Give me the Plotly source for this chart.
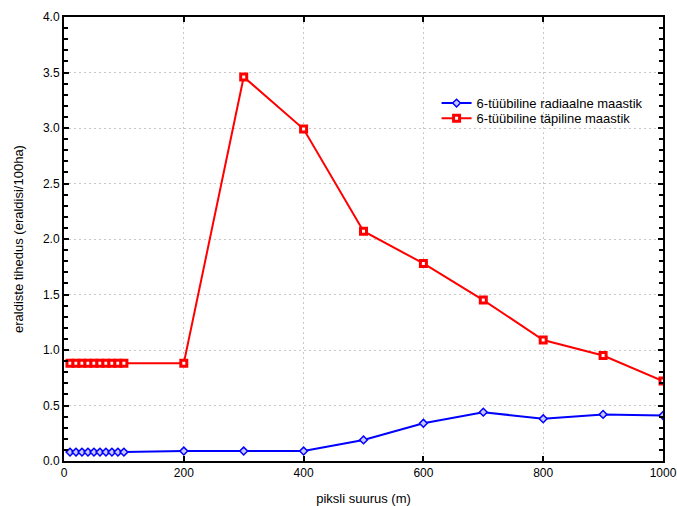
import plotly.graph_objects as go

x_vals = [10, 20, 30, 40, 50, 60, 70, 80, 90, 100, 200, 300, 400, 500, 600, 700, 800, 900, 1000]
radial = [0.08, 0.08, 0.08, 0.08, 0.08, 0.08, 0.08, 0.08, 0.08, 0.08, 0.09, 0.09, 0.09, 0.19, 0.34, 0.44, 0.38, 0.42, 0.41]
point = [0.88, 0.88, 0.88, 0.88, 0.88, 0.88, 0.88, 0.88, 0.88, 0.88, 0.88, 3.46, 2.99, 2.07, 1.78, 1.45, 1.09, 0.95, 0.72]
names = ["6-tüübiline radiaalne maastik", "6-tüübiline täpiline maastik"]
x_ticks = [0, 200, 400, 600, 800, 1000]
y_ticks = [0.0, 0.5, 1.0, 1.5, 2.0, 2.5, 3.0, 3.5, 4.0]

FONT = "Liberation Sans, Arial"

fig = go.Figure()
fig.add_trace(go.Scatter(x=x_vals, y=radial, name=names[0], mode="lines+markers",
                         line=dict(color="#0000ff", width=2), legend="legend",
                         marker=dict(symbol="diamond", size=6, color="#c8c8ff",
                                     line=dict(color="#0000ff", width=1.5))))
fig.add_trace(go.Scatter(x=x_vals, y=point, name=names[1], mode="lines+markers",
                         line=dict(color="#ff0000", width=2), legend="legend2",
                         marker=dict(symbol="square", size=6, color="white",
                                     line=dict(color="#ff0000", width=3))))

axis_common = dict(showline=True, linecolor="black", linewidth=2, mirror="ticks",
                   ticks="inside", ticklen=5, tickcolor="black", tickwidth=2,
                   showgrid=True, gridcolor="#c8c8c8", griddash="2px,3px", gridwidth=1,
                   zeroline=False, automargin=False, ticklabeloverflow="allow",
                   tickfont=dict(family=FONT, size=12, color="black"))

fig.update_xaxes(range=[0, 1000], tickvals=x_ticks, **axis_common,
                 title=dict(text="piksli suurus (m)", font=dict(family=FONT, size=13, color="black"), standoff=14))
fig.update_yaxes(range=[0, 4], tickvals=y_ticks, tickformat=".1f", **axis_common,
                 minor=dict(dtick=0.1, ticks="inside", ticklen=4, tickcolor="black", tickwidth=2, showgrid=False),
                 title=dict(text="eraldiste tihedus (eraldisi/100ha)", font=dict(family=FONT, size=13, color="black"), standoff=16))

leg_common = dict(x=0.622, xanchor="left", yanchor="middle", bgcolor="rgba(0,0,0,0)",
                  font=dict(family=FONT, size=13, color="black"), itemwidth=30)
fig.update_layout(width=677, height=506, plot_bgcolor="white", paper_bgcolor="white",
                  margin=dict(l=64, r=14, t=17, b=45, autoexpand=False),
                  font=dict(family=FONT, size=12, color="black"),
                  legend=dict(y=0.806, **leg_common),
                  legend2=dict(y=0.772, **leg_common),
                  showlegend=True)

fig.write_html("out.html", config={"displayModeBar": False},
               post_script="document.body.style.margin='0';document.body.style.overflow='hidden';")
